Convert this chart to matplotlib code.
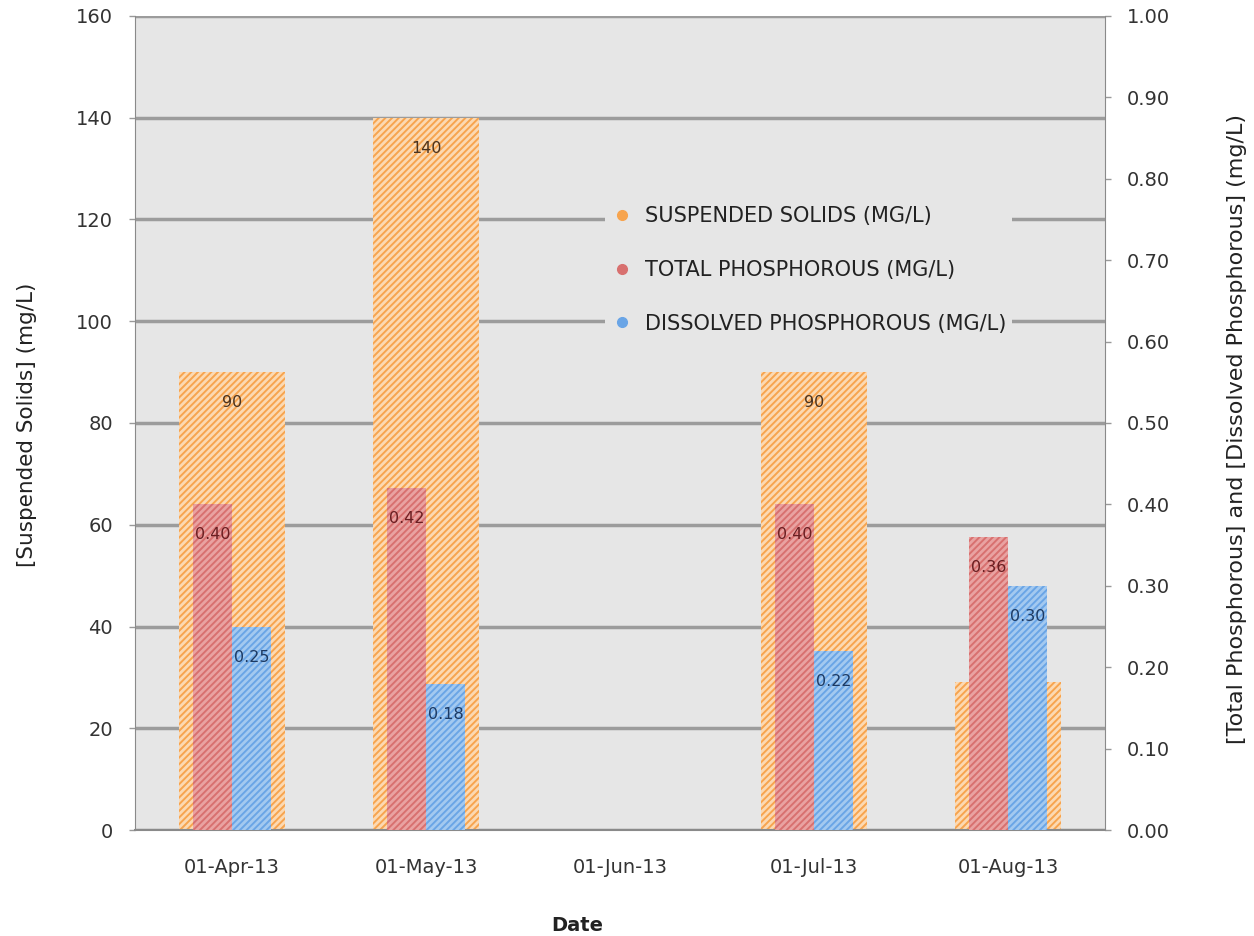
import numpy as np
import matplotlib
matplotlib.use("Agg")
import matplotlib.pyplot as plt
from matplotlib.lines import Line2D

plt.rcParams['font.family'] = ['DejaVu Sans']
plt.rcParams['hatch.linewidth'] = 2.0

dates = ["01-Apr-13", "01-May-13", "01-Jun-13", "01-Jul-13", "01-Aug-13"]
suspended_solids = [90, 140, np.nan, 90, 29]
total_phos = [0.40, 0.42, np.nan, 0.40, 0.36]
dissolved_phos = [0.25, 0.18, np.nan, 0.22, 0.30]

ss_labels = ["90", "140", "", "90", "29"]
tp_labels = ["0.40", "0.42", "", "0.40", "0.36"]
dp_labels = ["0.25", "0.18", "", "0.22", "0.30"]

c_ss = "#f7a44e"
c_tp = "#d8706f"
c_dp = "#6aa5e6"

fig = plt.figure(figsize=(12.54, 9.36), dpi=100)
ax = fig.add_axes([0.1077, 0.1132, 0.7735, 0.8698])
ax2 = ax.twinx()

x = np.arange(len(dates))

ax.set_facecolor("#e6e6e6")
ax.set_ylim(0, 160)
ax.set_yticks(np.arange(0, 161, 20))
ax.set_xlim(-0.5, len(dates) - 0.5)
ax.yaxis.grid(True, color="#9c9c9c", linewidth=2.5)
ax.set_axisbelow(True)

ss_bars = ax.bar(x, suspended_solids, width=0.55, color=c_ss,
                 edgecolor="#fcd9b2", linewidth=0, hatch="/////", zorder=2)

ax2.set_ylim(0, 1.0)
ax2.set_yticks(np.arange(0, 1.01, 0.1))
ax2.set_yticklabels([f"{v:.2f}" for v in np.arange(0, 1.01, 0.1)])
tp_bars = ax2.bar(x - 0.1, total_phos, width=0.2, color=c_tp,
                  edgecolor="#e9a2a1", linewidth=0, hatch="/////", zorder=2)
dp_bars = ax2.bar(x + 0.1, dissolved_phos, width=0.2, color=c_dp,
                  edgecolor="#a3c9f0", linewidth=0, hatch="/////", zorder=2)

def add_labels(axis, bars, labels, offset, color):
    for b, lab in zip(bars, labels):
        h = b.get_height()
        if not lab or np.isnan(h):
            continue
        axis.annotate(lab, (b.get_x() + b.get_width() / 2, h),
                      xytext=(0, -offset), textcoords="offset points",
                      ha="center", va="center", fontsize=11.5, color=color, zorder=5)

add_labels(ax, ss_bars, ss_labels, 22, "#4a3320")
add_labels(ax2, tp_bars, tp_labels, 22, "#6a1f22")
add_labels(ax2, dp_bars, dp_labels, 22, "#1d3a63")

ax.set_xticks(x)
ax.set_xticklabels(dates)

for a in (ax, ax2):
    for s in a.spines.values():
        s.set_visible(False)
    a.tick_params(axis="both", labelsize=14, colors="#333333", length=4,
                  width=1, pad=12)
ax.spines["left"].set_visible(True)
ax.spines["left"].set_color("#8a8a8a")
ax.spines["bottom"].set_visible(True)
ax.spines["bottom"].set_color("#8a8a8a")
ax.spines["bottom"].set_linewidth(1.5)
ax2.spines["right"].set_visible(True)
ax2.spines["right"].set_color("#8a8a8a")
ax.tick_params(axis="x", length=0, pad=20)
ax.tick_params(axis="y", colors="#999999", labelcolor="#333333")
ax2.tick_params(axis="y", colors="#999999", labelcolor="#333333")

ax.set_ylabel("[Suspended Solids] (mg/L)", fontsize=15.5, color="#222222")
ax.yaxis.set_label_coords(-0.101, 0.4975)
ax2.set_ylabel("[Total Phosphorous] and [Dissolved Phosphorous] (mg/L)",
               fontsize=16, color="#222222")
ax2.yaxis.set_label_coords(1.126, 0.4926)
ax.set_xlabel("Date", fontsize=14, fontweight="bold", color="#222222")
ax.xaxis.set_label_coords(0.456, -0.105)

handles = [
    Line2D([], [], marker="o", linestyle="none", markersize=7, color=c_ss),
    Line2D([], [], marker="o", linestyle="none", markersize=7, color=c_tp),
    Line2D([], [], marker="o", linestyle="none", markersize=7, color=c_dp),
]
leg = ax2.legend(handles,
                 ["SUSPENDED SOLIDS (MG/L)", "TOTAL PHOSPHOROUS (MG/L)",
                  "DISSOLVED PHOSPHOROUS (MG/L)"],
                 loc="upper left", bbox_to_anchor=(0.4847, 0.774), borderaxespad=0,
                 frameon=True, facecolor="#e6e6e6", edgecolor="none", framealpha=1,
                 fontsize=15, labelspacing=1.62, handletextpad=0.6,
                 handlelength=1.0, borderpad=0.3)
for t in leg.get_texts():
    t.set_color("#222222")

fig.savefig("out.png", dpi=100, facecolor="white")
